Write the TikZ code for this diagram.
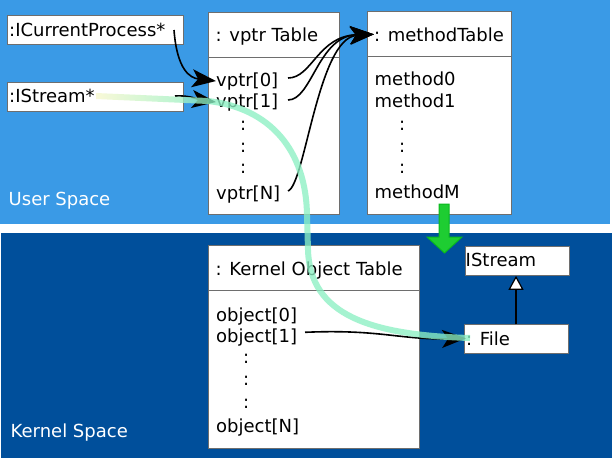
\documentclass[tikz,border=0pt]{standalone}
\usepackage{fontspec}
\setmainfont{DejaVu Sans}
\usetikzlibrary{arrows.meta}
\definecolor{userblue}{RGB}{58,154,230}
\definecolor{kernblue}{RGB}{0,79,155}
\definecolor{boxgray}{RGB}{110,110,110}
\definecolor{mint}{RGB}{140,240,195}
\definecolor{paley}{RGB}{248,248,205}
\definecolor{agreen}{RGB}{30,205,50}
\definecolor{agreenlt}{RGB}{120,245,130}
\definecolor{agreendk}{RGB}{10,185,30}
\tikzset{
  box/.style={draw=boxgray, fill=white, line width=0.8pt, inner sep=0pt, anchor=north west},
  txt/.style={inner sep=0pt, anchor=base west},
  wtxt/.style={inner sep=0pt, anchor=base west, text=white},
  divider/.style={draw=boxgray, line width=0.8pt},
  link/.style={line width=1.6pt, -{Stealth[length=24pt,width=18pt,inset=6pt]}},
  inherit/.style={line width=1.6pt, -{Triangle[open,fill=white,length=14pt,width=15pt,line width=1.2pt]}},
  glow/.style={draw=mint, line width=6pt, opacity=0.78}
}
\begin{document}
\begin{tikzpicture}[x=1pt,y=-1pt,font=\fontsize{18}{21}\selectfont]
\useasboundingbox (0,0) rectangle (612,458);
% backgrounds
\fill[white] (0,0) rectangle (612,458);
\fill[userblue] (0,0) rectangle (610,224);
\fill[kernblue] (1,233) rectangle (612,458);
\node[wtxt] (us) at (8.5,205.7) {User Space};
\node[wtxt] (ks) at (10.5,437) {Kernel Space};

% boxes
\node[box, minimum width=176pt, minimum height=29pt] (cp) at (7,15) {};
\node[box, minimum width=176pt, minimum height=28.5pt] (isp) at (7,82) {};
\node[box, minimum width=131pt, minimum height=202.5pt] (vt) at (208,11.8) {};
\node[box, minimum width=144pt, minimum height=203pt] (mt) at (367,11.3) {};
\node[box, minimum width=211pt, minimum height=203.3pt] (kt) at (208,245) {};
\node[box, minimum width=104pt, minimum height=29pt] (ist) at (465,246) {};
\node[box, minimum width=104pt, minimum height=29pt] (file) at (464,324.3) {};
\draw[divider] (208,57.3) -- (339,57.3);
\draw[divider] (367,56.3) -- (511,56.3);
\draw[divider] (208,290.7) -- (419,290.7);

% texts
\node[txt] (cpt) at (9,36) {:ICurrentProcess*};
\node[txt] (ispt) at (9,102) {:IStream*};
\node[txt] (vtt) at (215.5,41) {: vptr Table};
\node[txt] (v0) at (216,86) {vptr[0]};
\node[txt] (v1) at (216,107) {vptr[1]};
\node[txt] (vd1) at (240,130) {:};
\node[txt] (vd2) at (240,152) {:};
\node[txt] (vd3) at (240,173) {:};
\node[txt] (vn) at (216,199) {vptr[N]};
\node[txt] (mtt) at (374,41) {: methodTable};
\node[txt] (m0) at (374.5,85.5) {method0};
\node[txt] (m1) at (374.5,107) {method1};
\node[txt] (md1) at (399,130) {:};
\node[txt] (md2) at (399,152) {:};
\node[txt] (md3) at (399,173) {:};
\node[txt] (mm) at (374.5,198.5) {methodM};
\node[txt] (ktt) at (215.5,275) {: Kernel Object Table};
\node[txt] (o0) at (216,321) {object[0]};
\node[txt] (o1) at (216,342) {object[1]};
\node[txt] (od1) at (243,363.3) {:};
\node[txt] (od2) at (243,385.7) {:};
\node[txt] (od3) at (243,408.3) {:};
\node[txt] (on) at (216,432) {object[N]};
\node[txt] (istt) at (465.5,266.7) {IStream};
\node[txt] (filet) at (466,345) {: File};

% green transition arrow
\shadedraw[draw=agreendk, line width=1pt, left color=agreen, middle color=agreenlt, right color=agreen]
  (439,204) -- (449,204) -- (449,237) -- (462,237) -- (444.5,253) -- (427,237) -- (439,237) -- cycle;

% connectors
\coordinate (cps) at (174,30);
\coordinate (isps) at (175,96);
\coordinate (v0s) at (288,78);
\coordinate (v1s) at (288,100);
\coordinate (vns) at (288,191);
\coordinate (o1s) at (305,332.3);
\draw[link] (cps) .. controls (177,70) and (190,78) .. (v0.west);
\draw[link] (isps) .. controls (190,95) and (200,100) .. (v1.west);
\draw[link] (v0s) .. controls (312,78) and (318,36) .. (mtt.west);
\draw[link] (v1s) .. controls (312,100) and (318,36) .. (mtt.west);
\draw[link] (vns) .. controls (305,185) and (318,38) .. (mtt.west);
\draw[link] (o1s) .. controls (380,329) and (400,340) .. (filet.west);
\draw[inherit] (file.north -| 516,0) -- (ist.south -| 516,0);

% highlighted path of the IStream pointer
\shade[left color=paley, right color=mint, opacity=0.78]
  (96,93) -- (208,98) -- (208,104) -- (96,99) -- cycle;
\draw[glow] (208,101) .. controls (270,108) and (306,150) .. (307,215)
  -- (308,250) .. controls (310,315) and (370,335) .. (470,338);
\end{tikzpicture}
\end{document}
